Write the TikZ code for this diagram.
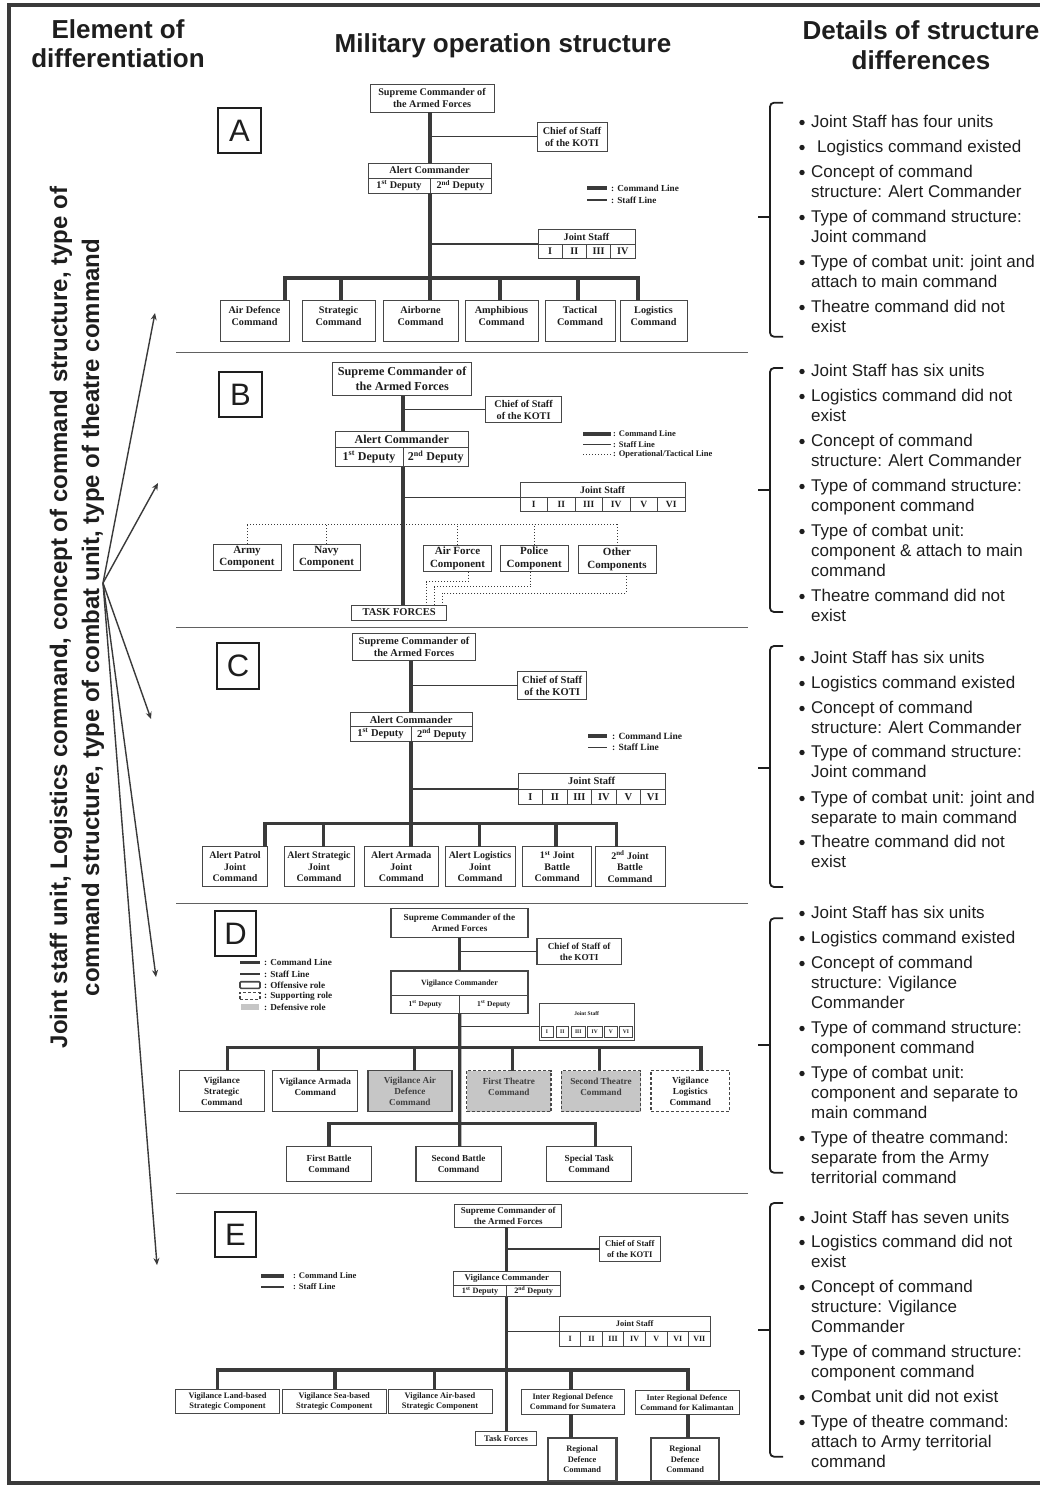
\documentclass[tikz,border=0pt]{standalone}
\usepackage{fontspec}
\setmainfont{Liberation Serif}
\newfontfamily\arialf{Liberation Sans}
\usetikzlibrary{arrows.meta}
\definecolor{ink}{HTML}{1E1E1E}
\definecolor{lnc}{HTML}{3A3A3A}
\definecolor{boxc}{HTML}{474747}
\definecolor{defg}{HTML}{C6C6C6}
\newcommand\fsz[2]{\fontsize{#1}{#2}\selectfont}
% box given by its corners: [options]{name}{x1}{y1}{x2}{y2}{text}
\newcommand\obox[7][]{\node[obx,anchor=north west,minimum width={(#5)-(#3)},minimum height={(#6)-(#4)},#1] (#2) at ({#3},{#4}) {#7};}
% extra empty line that lifts the text inside a box
\newcommand\upsh[1]{\\[#1]\mbox{}}
\newcounter{tlc}
\newcommand\contline[2]{\stepcounter{tlc}\node[bt] (tl\arabic{tlc}) at (811,{#1+6}) {#2};}
\newcommand\bulline[2]{\fill[ink] (802,{#1+1.5}) circle[radius=2.7pt]; \contline{#1}{#2}}
\newcommand\brk[3]{\draw[brace] (783,#1) -- (770,#1) -- (770,#3) -- (783,#3); \draw[brace] (770,#2) -- (758,#2);}
\tikzset{
  obx/.style={draw=boxc, line width=0.8pt, fill=white, inner sep=0.5pt, outer sep=0pt, align=center, text=ink, font=\bfseries},
  letter/.style={line width=2pt, draw=ink, font=\arialf\fsz{31}{31}},
  cmd/.style={draw=lnc, line width=3.2pt},
  stf/.style={draw=lnc, line width=1.3pt},
  opl/.style={draw=lnc, line width=1pt, dotted},
  lgt/.style={anchor=west, inner sep=0pt, text=ink, font=\bfseries},
  bt/.style={anchor=base west, inner sep=0pt, text=ink, font=\arialf\fsz{17}{20}},
  hdr/.style={anchor=base, inner sep=0pt, text=ink, font=\arialf\bfseries\fsz{26}{30}},
  side/.style={anchor=base, rotate=90, inner sep=0pt, text=ink, font=\arialf\bfseries\fsz{24}{28}},
  arr/.style={draw=lnc, line width=1.4pt, -{Stealth[length=7pt,width=6pt]}},
  sep/.style={draw=lnc!80, line width=0.8pt},
  brace/.style={draw=ink, line width=1.8pt, rounded corners=4pt},
  supp/.style={dash pattern=on 3pt off 2pt},
  defr/.style={fill=defg, text=ink!85},
}
\begin{document}
\begin{tikzpicture}[x=1pt,y=-1pt]
\useasboundingbox (0,0) rectangle (1040,1486);
\fill[white] (0,0) rectangle (1040,1486);

% frame
\draw[line width=4pt, draw=lnc] (1040,5) -- (9,5) -- (9,1483) -- (1040,1483);

% column headings
\node[hdr] (h1) at (118,38) {Element of};
\node[hdr] (h2) at (118,67) {differentiation};
\node[hdr] (h3) at (503,52) {Military operation structure};
\node[hdr] (h4) at (921,39) {Details of structure};
\node[hdr] (h5) at (921,69) {differences};

% differentiating elements
\node[side] (s1) at (67,617.5) {Joint staff unit, Logistics command, concept of command structure, type of};
\node[side] (s2) at (99,617.5) {command structure, type of combat unit, type of theatre command};
\coordinate (hub) at (103,583);
\coordinate (tipA) at (155,313);
\coordinate (tipB) at (158,483);
\coordinate (tipC) at (151,719);
\coordinate (tipD) at (156,977);
\coordinate (tipE) at (157,1265);
\foreach \t in {tipA,tipB,tipC,tipD,tipE} \draw[arr] (hub) -- (\t);

% panel separators
\foreach \y in {352,627,903,1193} \draw[sep] (176,\y) -- (748,\y);

% ================= A =================
\begin{scope}[obx/.append style={font=\bfseries\fsz{10.2}{12}}, lgt/.append style={font=\bfseries\fsz{9.2}{11}}]
\obox[letter]{letA}{218}{108}{261}{153}{A}
\obox{supA}{370}{84}{494}{112}{Supreme Commander of\\the Armed Forces}
\obox{cosA}{537}{122}{607}{151}{Chief of Staff\\of the KOTI}
\obox{acA}{368}{163}{491}{178}{Alert Commander}
\obox{dA1}{368}{178}{430}{193}{1\textsuperscript{st} Deputy}
\obox{dA2}{430}{178}{491}{193}{2\textsuperscript{nd} Deputy}
\obox{jsA}{538}{229}{635}{244}{Joint Staff}
\foreach \r [count=\i] in {I,II,III,IV}{\obox{jsA\i}{538+(\i-1)*24.25}{244}{538+\i*24.25}{258}{\r}}
\node[lgt] (lgA1) at (611,188) {: Command Line};
\draw[cmd] ([xshift=-24pt]lgA1.west) -- ([xshift=-4pt]lgA1.west);
\node[lgt] (lgA2) at (611,200) {: Staff Line};
\draw[stf] ([xshift=-24pt]lgA2.west) -- ([xshift=-4pt]lgA2.west);
\obox{cA1}{220}{300}{289}{341}{Air Defence\\Command\upsh{-2pt}}
\obox{cA2}{302}{300}{375}{341}{Strategic\\Command\upsh{-2pt}}
\obox{cA3}{383}{300}{458}{341}{Airborne\\Command\upsh{-2pt}}
\obox{cA4}{465}{300}{538}{341}{Amphibious\\Command\upsh{-2pt}}
\obox{cA5}{545}{300}{615}{341}{Tactical\\Command\upsh{-2pt}}
\obox{cA6}{620}{300}{687}{341}{Logistics\\Command\upsh{-2pt}}
\coordinate (tA) at (430,278);
\draw[cmd] (supA.south -| tA) -- (acA.north -| tA);
\draw[cmd] (dA1.south east) -- (cA3.north -| tA);
\draw[stf] (cosA.west) -- (cosA.west -| tA);
\draw[stf] (jsA1.north west) -- (jsA1.north west -| tA);
\foreach \n/\x in {cA1/285,cA2/341,cA4/500,cA5/578,cA6/638} \draw[cmd] (\x,0 |- \n.north) |- (tA);
\end{scope}

% ================= B =================
\begin{scope}[obx/.append style={font=\bfseries\fsz{11}{12.5}}, lgt/.append style={font=\bfseries\fsz{8.5}{10}}]
\obox[letter]{letB}{219}{372}{262}{417}{B}
\obox[font=\bfseries\fsz{12.2}{14.5}]{supB}{332.5}{362.3}{471.8}{395.7}{Supreme Commander of\\the Armed Forces}
\obox[font=\bfseries\fsz{10.2}{12}]{cosB}{485.4}{396.7}{561.8}{422.7}{Chief of Staff\\of the KOTI}
\obox[font=\bfseries\fsz{12}{14}]{acB}{335}{431}{468.6}{447.7}{Alert Commander}
\obox[font=\bfseries\fsz{12}{14}]{dB1}{335}{447.7}{403}{466.7}{1\textsuperscript{st} Deputy}
\obox[font=\bfseries\fsz{12}{14}]{dB2}{403}{447.7}{468.6}{466.7}{2\textsuperscript{nd} Deputy}
\obox[font=\bfseries\fsz{10}{12}]{jsB}{520}{482.7}{685}{497.3}{Joint Staff}
\foreach \r [count=\i] in {I,II,III,IV,V,VI}{\obox[font=\bfseries\fsz{9.5}{11}]{jsB\i}{520+(\i-1)*27.5}{497.3}{520+\i*27.5}{511.7}{\r}}
\node[lgt] (lgB1) at (613,434) {: Command Line};
\draw[cmd] ([xshift=-30pt]lgB1.west) -- ([xshift=-2pt]lgB1.west);
\node[lgt] (lgB2) at (613,444.3) {: Staff Line};
\draw[stf] ([xshift=-30pt]lgB2.west) -- ([xshift=-2pt]lgB2.west);
\node[lgt] (lgB3) at (613,454.3) {: Operational/Tactical Line};
\draw[opl] ([xshift=-30pt]lgB3.west) -- ([xshift=-2pt]lgB3.west);
\obox{armyB}{213}{544}{281}{570}{Army\\Component}
\obox{navyB}{293}{544}{360}{570}{Navy\\Component}
\obox{airB}{423.6}{545}{491.4}{571.7}{Air Force\\Component}
\obox{polB}{500.4}{545}{568}{571.7}{Police\\Component}
\obox{othB}{578}{545.7}{656}{573.3}{Other\\Components}
\obox[font=\bfseries\fsz{10.5}{12}]{tfB}{351.4}{605}{446.8}{620}{TASK FORCES}
\coordinate (tB) at (403,524);
\draw[cmd] (supB.south -| tB) -- (acB.north -| tB);
\draw[cmd] (dB1.south east) -- (tfB.north -| tB);
\draw[stf] (cosB.west) -- (cosB.west -| tB);
\draw[stf] (jsB1.north west) -- (jsB1.north west -| tB);
\draw[opl] (armyB.north |- tB) -- (othB.north |- tB);
\foreach \n in {armyB,navyB,airB,polB,othB} \draw[opl] (\n.north) -- (\n.north |- tB);
\draw[opl] (468.2,0 |- airB.south) -- ++(0,10) -| (426.4,0 |- tfB.north);
\draw[opl] (530.7,0 |- polB.south) -- ++(0,15) -| (434.3,0 |- tfB.north);
\draw[opl] (626.4,0 |- othB.south) -- ++(0,20) -| (442,0 |- tfB.north);
\end{scope}

% ================= C =================
\begin{scope}[obx/.append style={font=\bfseries\fsz{10.5}{12}}, lgt/.append style={font=\bfseries\fsz{9.5}{11}}]
\obox[letter]{letC}{217}{643}{259}{689}{C}
\obox{supC}{352.7}{633.3}{475.3}{660.7}{Supreme Commander of\\the Armed Forces}
\obox{cosC}{517.7}{671.7}{586.7}{699.3}{Chief of Staff\\of the KOTI}
\obox{acC}{350}{712.3}{472.3}{726.7}{Alert Commander}
\obox{dC1}{350}{726.7}{411}{741}{1\textsuperscript{st} Deputy}
\obox{dC2}{411}{726.7}{472.3}{741}{2\textsuperscript{nd} Deputy}
\obox{jsC}{518.3}{773.3}{665}{789}{Joint Staff}
\foreach \r [count=\i] in {I,II,III,IV,V,VI}{\obox{jsC\i}{518.3+(\i-1)*24.45}{789}{518.3+\i*24.45}{804.3}{\r}}
\node[lgt] (lgC1) at (612,736) {: Command Line};
\draw[cmd] ([xshift=-24pt]lgC1.west) -- ([xshift=-5pt]lgC1.west);
\node[lgt] (lgC2) at (612,747.7) {: Staff Line};
\draw[stf] ([xshift=-24pt]lgC2.west) -- ([xshift=-5pt]lgC2.west);
\begin{scope}[obx/.append style={font=\bfseries\fsz{10}{11.5}}]
\obox{cC1}{202.7}{846.7}{267.3}{886.7}{Alert Patrol\\Joint\\Command}
\obox{cC2}{284}{846.7}{354}{886.7}{Alert Strategic\\Joint\\Command}
\obox{cC3}{364.3}{846.7}{438.3}{886.7}{Alert Armada\\Joint\\Command}
\obox{cC4}{445}{846.7}{515}{886.7}{Alert Logistics\\Joint\\Command}
\obox{cC5}{522.7}{846.7}{591.7}{886.7}{1\textsuperscript{st} Joint\\Battle\\Command}
\obox{cC6}{595}{846.7}{665}{886.7}{2\textsuperscript{nd} Joint\\Battle\\Command}
\end{scope}
\coordinate (tC) at (411,823.3);
\draw[cmd] (supC.south -| tC) -- (acC.north -| tC);
\draw[cmd] (dC1.south east) -- (cC3.north -| tC);
\draw[stf] (cosC.west) -- (cosC.west -| tC);
\draw[stf] (jsC1.north west) -- (jsC1.north west -| tC);
\foreach \n/\x in {cC1/265,cC2/323.3,cC4/479.3,cC5/556,cC6/616.7} \draw[cmd] (\x,0 |- \n.north) |- (tC);
\end{scope}

% ================= D =================
\begin{scope}[obx/.append style={font=\bfseries\fsz{9.2}{11}, line width=1.2pt}, lgt/.append style={font=\bfseries\fsz{9.2}{11}}]
\obox[letter]{letD}{215}{911}{256}{955.7}{D}
\obox{supD}{390.9}{908.3}{528}{937.7}{Supreme Commander of the\\Armed Forces}
\obox{cosD}{537}{938.3}{621.3}{964.3}{Chief of Staff of\\the KOTI}
\obox[font=\bfseries\fsz{8}{10}]{vcD}{390.9}{971}{528}{995.7}{Vigilance Commander}
\obox[font=\bfseries\fsz{7.5}{9}]{dD1}{390.9}{995.7}{459.7}{1013.3}{1\textsuperscript{st} Deputy}
\obox[font=\bfseries\fsz{7.5}{9}]{dD2}{459.7}{995.7}{528}{1013.3}{1\textsuperscript{st} Deputy}
\obox[line width=1pt]{jsD}{539.2}{1003.3}{634.3}{1040}{}
\node[inner sep=0pt, text=ink, font=\bfseries\fsz{5.5}{6}] (jsDt) at (586.7,1014) {Joint Staff};
\foreach \a/\b/\r [count=\i] in {540.9/553.1/I,555.9/568.8/II,571.4/585.1/III,587.3/602.1/IV,604.6/616.9/V,619.3/632.4/VI}
  {\obox[line width=0.8pt,font=\bfseries\fsz{5.5}{6}]{jsD\i}{\a}{1026.5}{\b}{1037.8}{\r}}
\node[lgt] (lgD1) at (264,962.3) {: Command Line};
\draw[cmd] ([xshift=-24pt]lgD1.west) -- ([xshift=-4pt]lgD1.west);
\node[lgt] (lgD2) at (264,974) {: Staff Line};
\draw[stf] ([xshift=-24pt]lgD2.west) -- ([xshift=-4pt]lgD2.west);
\node[lgt] (lgD3) at (264,985) {: Offensive role};
\draw[line width=1.6pt, draw=boxc, rounded corners=1pt] ([xshift=-24pt,yshift=-3.3pt]lgD3.west) rectangle ([xshift=-4pt,yshift=3.3pt]lgD3.west);
\node[lgt] (lgD4) at (264,996) {: Supporting role};
\draw[line width=1.3pt, draw=boxc, supp] ([xshift=-24pt,yshift=-3.3pt]lgD4.west) rectangle ([xshift=-4pt,yshift=3.3pt]lgD4.west);
\node[lgt] (lgD5) at (264,1007) {: Defensive role};
\fill[defg] ([xshift=-23pt,yshift=-3pt]lgD5.west) rectangle ([xshift=-5pt,yshift=3pt]lgD5.west);
\obox{vsD}{179.2}{1070.7}{264.3}{1111.7}{Vigilance\\Strategic\\Command}
\obox{vaD}{272.8}{1070.7}{357.6}{1111.7}{Vigilance Armada\\Command\upsh{-3pt}}
\obox[defr]{vadD}{367.9}{1070.7}{451.9}{1111.7}{Vigilance Air\\Defence\\Command}
\obox[defr,supp]{ftD}{466.7}{1070.7}{551}{1111.7}{First Theatre\\Command\upsh{-3pt}}
\obox[defr,supp]{stD}{561.4}{1070.7}{640.6}{1111.7}{Second Theatre\\Command\upsh{-3pt}}
\obox[supp]{vlD}{651}{1070.7}{729.7}{1111.7}{Vigilance\\Logistics\\Command}
\obox{fbD}{286.5}{1146.7}{371.6}{1181.7}{First Battle\\Command}
\obox{sbD}{416}{1146.7}{501.1}{1181.7}{Second Battle\\Command}
\obox{spD}{546.6}{1146.7}{631.7}{1181.7}{Special Task\\Command}
\coordinate (tD1) at (459.7,1047.7);
\coordinate (tD2) at (459.7,1123.3);
\draw[cmd] (supD.south -| tD1) -- (vcD.north -| tD1);
\draw[cmd] (dD1.south east) -- (sbD.north -| tD1);
\draw[stf] (cosD.west) -- (cosD.west -| tD1);
\draw[stf] (jsD.west |- jsD1.north) -- (jsD1.north -| tD1);
\foreach \n/\x in {vsD/227.3,vaD/318.7,vadD/414.2,ftD/512.2,stD/599.2,vlD/700.9} \draw[cmd] (\x,0 |- \n.north) |- (tD1);
\foreach \n/\x in {fbD/329,spD/595.5} \draw[cmd] (\x,0 |- \n.north) |- (tD2);
\end{scope}

% ================= E =================
\begin{scope}[obx/.append style={font=\bfseries\fsz{8.4}{10.3}}, lgt/.append style={font=\bfseries\fsz{8.6}{10}}]
\obox[letter]{letE}{214.6}{1212.3}{256.4}{1257.3}{E}
\node[lgt] (lgE1) at (293,1276) {: Command Line};
\draw[cmd] ([xshift=-32pt]lgE1.west) -- ([xshift=-9pt]lgE1.west);
\node[lgt] (lgE2) at (293,1287) {: Staff Line};
\draw[stf] ([xshift=-32pt]lgE2.west) -- ([xshift=-9pt]lgE2.west);
\obox[font=\bfseries\fsz{9}{11}]{supE}{454.6}{1204}{561.8}{1227.3}{Supreme Commander of\\the Armed Forces}
\obox[font=\bfseries\fsz{8.6}{10.5}]{cosE}{599.6}{1236.7}{660}{1261}{Chief of Staff\\of the KOTI}
\obox[font=\bfseries\fsz{8.8}{10}]{vcE}{453.2}{1271.7}{560.4}{1285}{Vigilance Commander}
\obox[font=\bfseries\fsz{8.2}{10}]{dE1}{453.2}{1285}{506.8}{1296.7}{1\textsuperscript{st} Deputy}
\obox[font=\bfseries\fsz{8.2}{10}]{dE2}{506.8}{1285}{560.4}{1296.7}{2\textsuperscript{nd} Deputy}
\obox[font=\bfseries\fsz{8.4}{10}]{jsE}{559.3}{1316}{710}{1331.7}{Joint Staff}
\foreach \r [count=\i] in {I,II,III,IV,V,VI,VII}{\obox[font=\bfseries\fsz{8}{10}]{jsE\i}{559.3+(\i-1)*21.53}{1331.7}{559.3+\i*21.53}{1346}{\r}}
\obox{lsE}{175.4}{1389.3}{279.6}{1413.3}{Vigilance Land-based\\Strategic Component}
\obox{ssE}{282.5}{1389.3}{386}{1413.3}{Vigilance Sea-based\\Strategic Component}
\obox{asE}{387.9}{1389.3}{492.1}{1413.3}{Vigilance Air-based\\Strategic Component}
\obox[font=\bfseries\fsz{8.2}{10.3}]{sumE}{521}{1389.5}{624.6}{1414}{Inter Regional Defence\\Command for Sumatera}
\obox[font=\bfseries\fsz{8.2}{10.3}]{kalE}{635}{1390.5}{739}{1414.3}{Inter Regional Defence\\Command for Kalimantan}
\obox[font=\bfseries\fsz{8.6}{10}]{tfE}{475.4}{1431}{536.8}{1445.7}{Task Forces}
\obox[line width=2.2pt]{rd1}{547.9}{1437.7}{616.4}{1481}{Regional\\Defence\\Command}
\obox[line width=2.2pt]{rd2}{651}{1437.7}{719.3}{1481}{Regional\\Defence\\Command}
\coordinate (tE) at (506.8,1370);
\draw[cmd] (supE.south -| tE) -- (vcE.north -| tE);
\draw[cmd] (dE1.south east) -- (tfE.north -| tE);
\draw[stf] (cosE.west) -- (cosE.west -| tE);
\draw[stf] (jsE1.north west) -- (jsE1.north west -| tE);
\foreach \n/\x in {lsE/217.5,ssE/335,asE/434.3,sumE/571,kalE/687.9} \draw[cmd] (\x,0 |- \n.north) |- (tE);
\draw[cmd] (571,0 |- sumE.south) -- (571,0 |- rd1.north);
\draw[cmd] (687.9,0 |- kalE.south) -- (687.9,0 |- rd2.north);
\end{scope}

% ================= details of differences =================
\brk{102.7}{217.3}{336.7}
\bulline{121}{Joint Staff has four units}
\fill[ink] (802,147.5) circle[radius=2.7pt]; \stepcounter{tlc}\node[bt] (tl\arabic{tlc}) at (817,152) {Logistics command existed};
\bulline{171}{Concept of command}
\contline{191}{structure: Alert Commander}
\bulline{216}{Type of command structure:}
\contline{236}{Joint command}
\bulline{261}{Type of combat unit: joint and}
\contline{281}{attach to main command}
\bulline{306}{Theatre command did not}
\contline{326}{exist}

\brk{368}{490}{612}
\bulline{370}{Joint Staff has six units}
\bulline{395}{Logistics command did not}
\contline{415}{exist}
\bulline{440}{Concept of command}
\contline{460}{structure: Alert Commander}
\bulline{485}{Type of command structure:}
\contline{505}{component command}
\bulline{530}{Type of combat unit:}
\contline{550}{component \& attach to main}
\contline{570}{command}
\bulline{595}{Theatre command did not}
\contline{615}{exist}

\brk{646}{768}{887}
\bulline{657}{Joint Staff has six units}
\bulline{682}{Logistics command existed}
\bulline{707}{Concept of command}
\contline{727}{structure: Alert Commander}
\bulline{751}{Type of command structure:}
\contline{771}{Joint command}
\bulline{797}{Type of combat unit: joint and}
\contline{817}{separate to main command}
\bulline{841}{Theatre command did not}
\contline{861}{exist}

\brk{918.3}{1045}{1172.7}
\bulline{912}{Joint Staff has six units}
\bulline{937}{Logistics command existed}
\bulline{962}{Concept of command}
\contline{982}{structure: Vigilance}
\contline{1002}{Commander}
\bulline{1027}{Type of command structure:}
\contline{1047}{component command}
\bulline{1072}{Type of combat unit:}
\contline{1092}{component and separate to}
\contline{1112}{main command}
\bulline{1137}{Type of theatre command:}
\contline{1157}{separate from the Army}
\contline{1177}{territorial command}

\brk{1203}{1330}{1456.7}
\bulline{1217}{Joint Staff has seven units}
\bulline{1241}{Logistics command did not}
\contline{1261}{exist}
\bulline{1286}{Concept of command}
\contline{1306}{structure: Vigilance}
\contline{1326}{Commander}
\bulline{1351}{Type of command structure:}
\contline{1371}{component command}
\bulline{1396}{Combat unit did not exist}
\bulline{1421}{Type of theatre command:}
\contline{1441}{attach to Army territorial}
\contline{1461}{command}
\end{tikzpicture}
\end{document}
